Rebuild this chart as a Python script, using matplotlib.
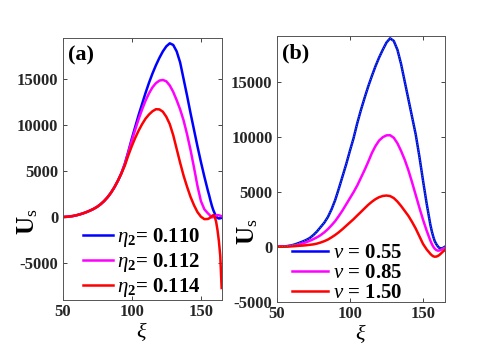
import numpy as np
import matplotlib
matplotlib.use('Agg')
import matplotlib.pyplot as plt

# xi grid (finer near the right end where the curves wiggle)
xi = [50, 52.5, 55, 57.5, 60, 62.5, 65, 67.5, 70, 72.5, 75, 77.5, 80, 82.5, 85,
      87.5, 90, 92.5, 95, 97.5, 100, 102.5, 105, 107.5, 110, 112.5, 115, 117.5,
      120, 122.5, 125, 127.5, 130, 132.5, 135, 137.5, 140, 142.5, 145, 147.5,
      150, 152.5, 155, 156, 157, 158, 159, 160, 161, 162, 163, 164, 165]

# panel (a): eta_2 variation
eta_labels = ['0.110', '0.112', '0.114']
us_eta110 = [10, 30, 70, 120, 200, 300, 420, 560, 720, 900, 1120, 1400, 1740, 2150, 2650,
             3250, 3950, 4750, 5800, 7100, 8500, 9800, 11100, 12300, 13500, 14600, 15600, 16500,
             17300, 18000, 18550, 18880, 18700, 18000, 16800, 15000, 13200, 11300, 9500, 7700,
             6000, 4400, 2900, 2350, 1750, 1200, 750, 400, 100, -100, -150, -120, -80]
us_eta112 = [10, 30, 70, 120, 200, 300, 420, 560, 720, 900, 1120, 1400, 1740, 2150, 2650,
             3250, 3950, 4750, 5750, 7000, 8300, 9500, 10650, 11700, 12650, 13450, 14100, 14550,
             14830, 14900, 14750, 14300, 13600, 12700, 11700, 10500, 9000, 7300, 5400, 3400,
             1750, 850, 420, 280, 100, -30, 0, 80, 170, 220, 200, 150, 100]
us_eta114 = [10, 30, 70, 120, 200, 300, 420, 560, 720, 900, 1120, 1400, 1740, 2150, 2650,
             3250, 3950, 4750, 5600, 6700, 7700, 8600, 9400, 10100, 10700, 11150, 11500, 11720,
             11700, 11450, 10900, 10100, 8900, 7400, 5900, 4500, 3300, 2200, 1300, 550,
             50, -220, -200, -130, -20, 120, 220, 50, -500, -1400, -2600, -4200, -7700]

# panel (b): nu variation
nu_labels = ['0.55', '0.85', '1.50']
us_nu055 = [0, 10, 30, 60, 120, 210, 330, 460, 600, 780, 1050, 1380, 1780, 2180, 2700,
            3400, 4250, 5300, 6400, 7500, 8700, 9850, 11200, 12400, 13500, 14550, 15500, 16400,
            17200, 17900, 18550, 18940, 18700, 17900, 16600, 15000, 13400, 11800, 10200, 8200,
            6000, 3900, 2000, 1400, 900, 500, 250, 50, -100, -150, -150, -80, 0]
us_nu085 = [0, 5, 20, 45, 80, 130, 200, 290, 400, 530, 680, 850, 1050, 1300, 1600,
            1950, 2330, 2800, 3300, 3850, 4400, 4950, 5550, 6250, 6950, 7700, 8500, 9150,
            9650, 9950, 10120, 10130, 9900, 9400, 8700, 7900, 6950, 5850, 4700, 3550,
            2450, 1450, 550, 250, 0, -180, -300, -360, -350, -300, -230, -150, -90]
us_nu150 = [0, 0, 5, 15, 30, 50, 80, 100, 130, 170, 210, 280, 380, 500, 650,
            850, 1070, 1320, 1600, 1900, 2200, 2500, 2830, 3150, 3480, 3800, 4080, 4320,
            4500, 4610, 4650, 4600, 4420, 4100, 3700, 3250, 2800, 2250, 1650, 950,
            250, -250, -650, -780, -870, -910, -900, -850, -770, -650, -520, -400, -300]

plt.rcParams['font.family'] = 'Liberation Serif'
plt.rcParams['mathtext.fontset'] = 'custom'
plt.rcParams['mathtext.rm'] = 'Liberation Serif'
plt.rcParams['mathtext.it'] = 'Liberation Serif:italic'
plt.rcParams['mathtext.bf'] = 'Liberation Serif:bold'
plt.rcParams['axes.unicode_minus'] = False

fig = plt.figure(figsize=(4.85, 3.46), dpi=100)
ax1 = fig.add_axes([0.129, 0.133, 0.328, 0.757])
ax2 = fig.add_axes([0.5705, 0.128, 0.347, 0.768])

x = np.array(xi)
lw = 1.8

ax1.plot(x, us_eta110, color='#0000ff', lw=lw, label=r'$\eta_\mathbf{2}$= ' + eta_labels[0])
ax1.plot(x, us_eta112, color='#ff00ff', lw=lw, label=r'$\eta_\mathbf{2}$= ' + eta_labels[1])
ax1.plot(x, us_eta114, color='#ff0000', lw=lw, label=r'$\eta_\mathbf{2}$= ' + eta_labels[2])

ax2.plot(x, us_nu055, color='#0000ff', lw=lw, label=r'$\nu$ = ' + nu_labels[0])
ax2.plot(x, us_nu085, color='#ff00ff', lw=lw, label=r'$\nu$ = ' + nu_labels[1])
ax2.plot(x, us_nu150, color='#ff0000', lw=lw, label=r'$\nu$ = ' + nu_labels[2])
# thin green dotted curve lying on top of the blue one
ax2.plot(x, us_nu055, color='#22aa22', lw=0.7, ls=':')

ax1.set_xlim(50, 165)
ax1.set_ylim(-9000, 19450)
ax2.set_xlim(50, 165)
ax2.set_ylim(-5000, 19150)

for ax in (ax1, ax2):
    ax.set_xticks([50, 100, 150])
    ax.set_yticks([-5000, 0, 5000, 10000, 15000])
    ax.tick_params(direction='in', top=True, right=True, length=3, width=0.6,
                   labelsize=12, colors='#262626', pad=3)
    for lab in ax.get_xticklabels() + ax.get_yticklabels():
        lab.set_fontweight('bold')
    for s in ax.spines.values():
        s.set_color('#555555')
        s.set_linewidth(0.7)
    ax.set_xlabel(r'$\xi$', fontsize=16, labelpad=0)
    ax.set_ylabel(r'$\mathbf{U}_{\mathrm{s}}$', fontsize=18)

ax1.yaxis.set_label_coords(-0.14, 0.30)
ax2.yaxis.set_label_coords(-0.10, 0.264)

ax1.text(0.035, 0.973, '(a)', transform=ax1.transAxes, fontsize=16, fontweight='bold',
         ha='left', va='top')
ax2.text(0.03, 0.9725, '(b)', transform=ax2.transAxes, fontsize=16, fontweight='bold',
         ha='left', va='top')

leg_font = {'size': 15, 'weight': 'bold'}
ax1.legend(loc='upper left', bbox_to_anchor=(0.129, 0.282), frameon=False, prop=leg_font,
           handlelength=1.45, handletextpad=0.2, borderpad=0, borderaxespad=0,
           labelspacing=0.1)
ax2.legend(loc='upper left', bbox_to_anchor=(0.089, 0.221), frameon=False, prop=leg_font,
           handlelength=1.75, handletextpad=0.25, borderpad=0, borderaxespad=0,
           labelspacing=0.0)

fig.savefig('out.png', dpi=100)
